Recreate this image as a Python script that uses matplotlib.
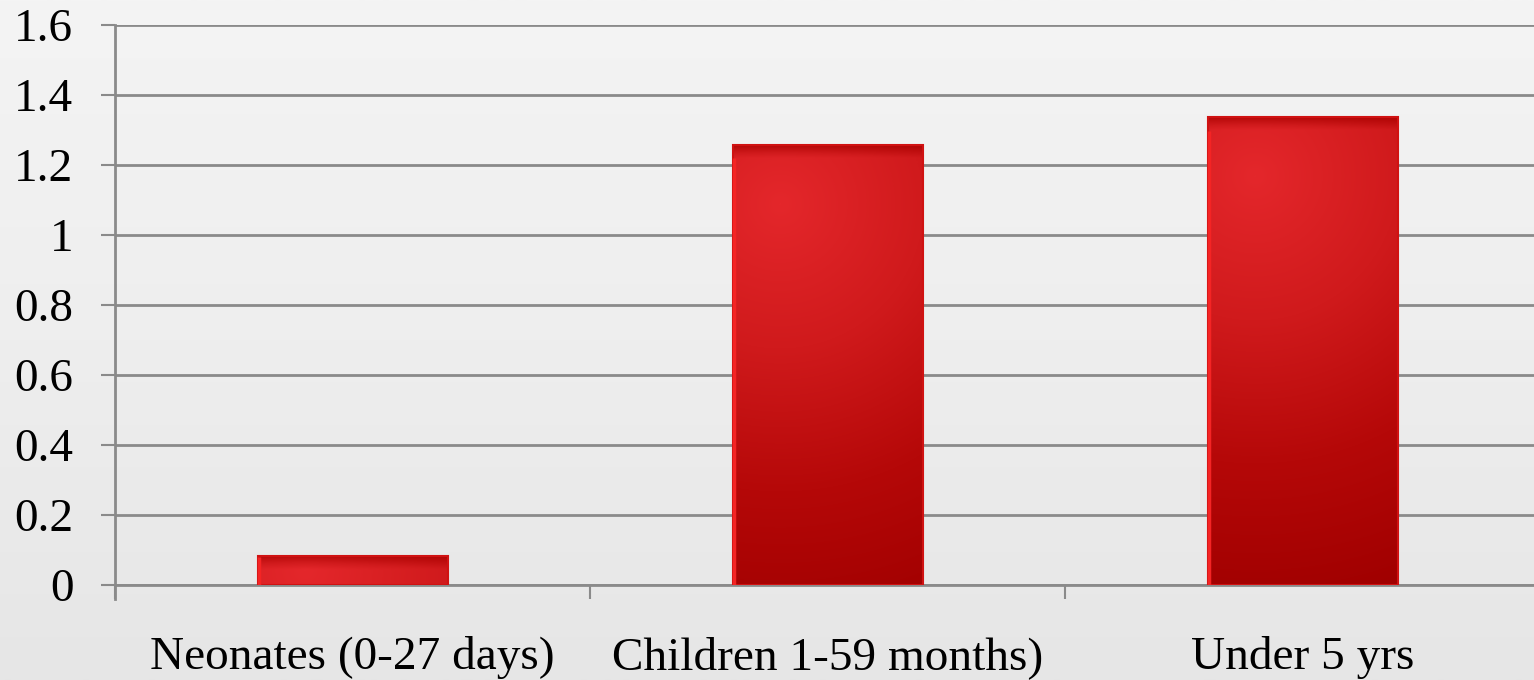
import numpy as np
import matplotlib.pyplot as plt
from matplotlib.colors import LinearSegmentedColormap

categories = ['Neonates (0-27 days)', 'Children 1-59 months)', 'Under 5 yrs']
values = [0.083, 1.257, 1.337]
yticks = [0, 0.2, 0.4, 0.6, 0.8, 1.0, 1.2, 1.4, 1.6]
ytick_labels = ['0', '0.2', '0.4', '0.6', '0.8', '1', '1.2', '1.4', '1.6']

plt.rcParams['font.family'] = ['Liberation Serif', 'DejaVu Serif']

W, H = 1534, 680
fig = plt.figure(figsize=(W / 100, H / 100), dpi=100)

# light paper-like background
bg = fig.add_axes([0, 0, 1, 1], zorder=-10)
bgv = np.linspace(0, 1, 256).reshape(-1, 1)
bg_cmap = LinearSegmentedColormap.from_list('bg', ['#f4f4f4', '#eeeeee', '#e6e6e6'])
bg.imshow(bgv, aspect='auto', cmap=bg_cmap, extent=[0, 1, 0, 1], origin='upper')
bg.axis('off')

ax_h = 560
ax = fig.add_axes([115 / W, 95 / H, 1425 / W, ax_h / H])
ax.patch.set_alpha(0)
ax.set_xlim(-0.5, 2.5)
ax.set_ylim(0, 1.6)

x = np.arange(len(categories))
bw = 0.40
bars = ax.bar(x, values, width=bw, color='#c01010', linewidth=0, zorder=3)

px_per_x = 1425 / 3.0
px_per_y = ax_h / 1.6
bar_cmap = LinearSegmentedColormap.from_list('bar', ['#a00000', '#b50808', '#d01a1c', '#e4272b'])
for b in bars:
    bx0, by0 = b.get_x(), b.get_y()
    bw_, bh = b.get_width(), b.get_height()
    wpx, hpx = bw_ * px_per_x, max(bh * px_per_y, 2)
    nx, ny = int(wpx), int(hpx)
    PX, PY = np.meshgrid(np.arange(nx) + 0.5, np.arange(ny) + 0.5)  # PY from bottom
    cx, cy = 0.25 * wpx, hpx - min(60, hpx * 0.5)
    d = np.sqrt((PX - cx) ** 2 + (PY - cy) ** 2) / 430
    shade = np.clip(1 - d, 0, 1)
    top = hpx - PY
    shade = np.where(top < 14, shade * (0.35 + 0.65 * top / 14), shade)
    im = ax.imshow(shade, extent=[bx0, bx0 + bw_, by0, by0 + bh], origin='lower',
                   aspect='auto', cmap=bar_cmap, vmin=0, vmax=1, zorder=3.5)
    im.set_clip_path(b)
    ax.add_patch(plt.Rectangle((bx0, by0), bw_, bh, fill=False,
                               edgecolor='#d01212', linewidth=1.5, zorder=4))
    ax.plot([bx0 + 0.004, bx0 + 0.004], [by0, by0 + bh * 0.97], color='#f42424',
            linewidth=2.5, zorder=4.5, solid_capstyle='butt')

ax.set_yticks(yticks)
ax.set_yticklabels(ytick_labels, fontsize=34)
ax.yaxis.grid(True, color='#8a8a8a', linewidth=2, zorder=1)
ax.set_axisbelow(True)

ax.set_xticks(x)
ax.set_xticklabels(categories, fontsize=34)
ax.set_xticks([-0.5, 0.5, 1.5, 2.5], minor=True)
ax.tick_params(axis='x', which='major', length=0, pad=37)
ax.tick_params(axis='x', which='minor', length=10, width=1.5, color='#8a8a8a', direction='out')
ax.tick_params(axis='y', length=10, width=1.5, color='#8a8a8a', pad=20)

for s in ['top', 'right']:
    ax.spines[s].set_visible(False)
ax.spines['left'].set_color('#8a8a8a')
ax.spines['left'].set_linewidth(2)
ax.spines['bottom'].set_color('#8a8a8a')
ax.spines['bottom'].set_linewidth(2)
ax.spines['left'].set_bounds(-0.04, 1.6)

fig.savefig('out.png', dpi=100)
